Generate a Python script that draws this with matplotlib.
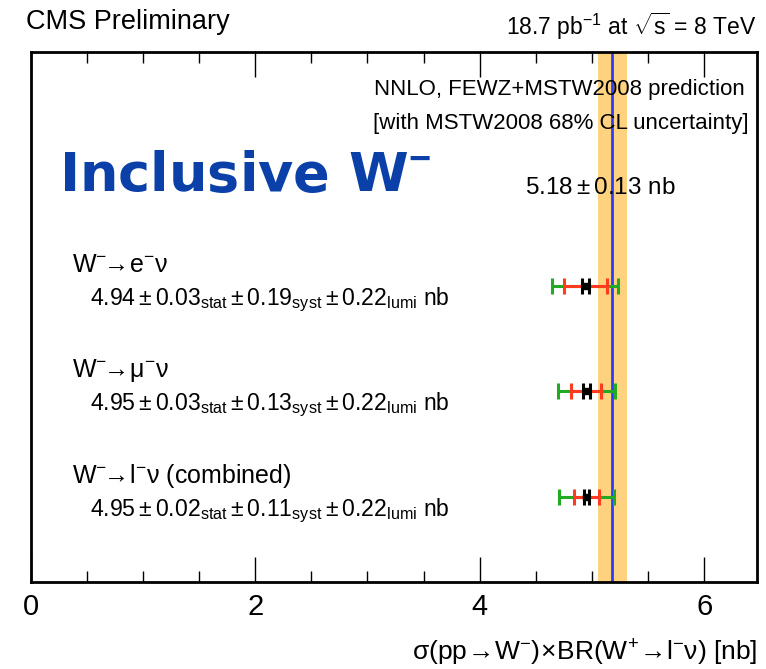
import numpy as np
import matplotlib
matplotlib.use("Agg")
from matplotlib import pyplot as plt

plt.rcParams['font.family'] = ['Liberation Sans', 'DejaVu Sans']
plt.rcParams['mathtext.fontset'] = 'custom'
plt.rcParams['mathtext.rm'] = 'Liberation Sans'
plt.rcParams['mathtext.it'] = 'Liberation Sans:italic'
plt.rcParams['mathtext.bf'] = 'Liberation Sans:bold'

# measurements (nb)
channels = [r'$\mathregular{W^{-}\!\!\rightarrow\! e^{-}\nu}$',
            r'$\mathregular{W^{-}\!\!\rightarrow\! \mu^{-}\nu}$',
            r'$\mathregular{W^{-}\!\!\rightarrow\! l^{-}\nu}$ (combined)']
central = [4.94, 4.95, 4.95]
stat = [0.03, 0.03, 0.02]
syst = [0.19, 0.13, 0.11]
lumi = [0.22, 0.22, 0.22]
rows = [3, 2, 1]

# theory prediction
theory = 5.18
theory_err = 0.13

central = np.array(central)
stat = np.array(stat)
syst = np.array(syst)
lumi = np.array(lumi)
err_ss = np.sqrt(stat**2 + syst**2)
err_tot = np.sqrt(stat**2 + syst**2 + lumi**2)

fig = plt.figure(figsize=(7.66, 6.69), dpi=100)
ax = fig.add_axes([0.0401, 0.1305, 0.9482, 0.7922])

ax.axvspan(theory - theory_err, theory + theory_err, color='#ffd27f', lw=0, zorder=1)
ax.axvline(theory, color='#2a3cff', lw=2, zorder=2)

ax.errorbar(central, rows, xerr=err_tot, fmt='none', ecolor='#22aa22',
            elinewidth=2.2, capsize=6, capthick=2.2, zorder=3)
ax.errorbar(central, rows, xerr=err_ss, fmt='none', ecolor='#ff3b1f',
            elinewidth=2.2, capsize=6, capthick=2.2, zorder=4)
ax.errorbar(central, rows, xerr=stat, fmt='s', color='black', ms=5,
            elinewidth=2.2, capsize=6, capthick=2.2, zorder=5)

for y, lab, c, st, sy, lu in zip(rows, channels, central, stat, syst, lumi):
    ax.text(0.365, y + 0.2, lab, fontsize=18, ha='left', va='center')
    txt = (r'$\mathregular{%.2f \pm %.2f_{stat} \pm %.2f_{syst} \pm %.2f_{lumi}}$ nb'
           % (c, st, sy, lu))
    ax.text(0.53, y - 0.13, txt, fontsize=16.6, ha='left', va='center')

ax.text(0.9835, 0.928, 'NNLO, FEWZ+MSTW2008 prediction', transform=ax.transAxes,
        fontsize=16, ha='right', va='center')
ax.text(0.988, 0.865, '[with MSTW2008 68% CL uncertainty]', transform=ax.transAxes,
        fontsize=16, ha='right', va='center')
ax.text(0.0386, 0.7655, r'Inclusive W$^{\mathbf{-}}$', transform=ax.transAxes,
        fontsize=39, fontweight='bold', family=['DejaVu Sans'],
        color='#0a40a8', ha='left', va='center')
ax.text(0.784, 0.743, r'$\mathregular{5.18 \pm 0.13}$ nb', transform=ax.transAxes,
        fontsize=17.5, ha='center', va='center')

fig.text(0.034, 0.967, 'CMS Preliminary', fontsize=19.5, ha='left', va='center')
fig.text(0.988, 0.96, r'$\mathregular{18.7\ pb^{-1}}$ at $\mathregular{\sqrt{s}}$ = 8 TeV',
         fontsize=16.5, ha='right', va='center')

ax.set_xlim(0, 6.47)
ax.set_ylim(0.197, 5.221)
ax.set_xticks([0, 2, 4, 6])
ax.set_xticks(np.arange(0, 6.5, 0.5), minor=True)
ax.set_yticks([])
ax.tick_params(axis='x', which='major', direction='in', length=18, width=1,
               top=True, labelsize=21, pad=8)
ax.tick_params(axis='x', which='minor', direction='in', length=8, width=1, top=True)
for s in ax.spines.values():
    s.set_linewidth(2)

ax.set_xlabel(r'$\mathregular{\sigma(pp\!\rightarrow\! W^{-})\!\times\! BR(W^{+}\!\rightarrow\! l^{-}\nu)}$ [nb]',
              fontsize=19, loc='right', labelpad=12)

fig.savefig('out.png', dpi=100)
